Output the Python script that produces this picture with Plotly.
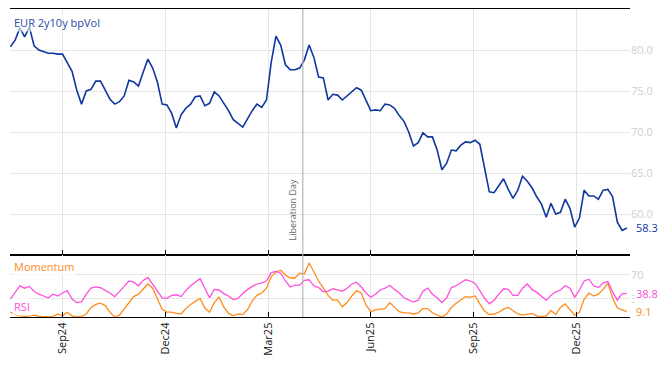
import pandas as pd
import plotly.graph_objects as go

# ---------------- data ----------------
start_date = "2024-07-17"          # first observation, sampled every 3 business days
sample_freq = "3B"

vol = [80.4, 81.2, 82.7, 81.6, 82.8, 80.5, 80.0, 79.8, 79.6, 79.6,
       79.5, 79.5, 78.5, 77.4, 75.1, 73.4, 75.0, 75.2, 76.2, 76.2,
       75.1, 74.0, 73.4, 73.7, 74.4, 76.3, 76.1, 75.6, 77.3, 78.9,
       77.8, 76.1, 73.4, 73.3, 72.3, 70.5, 72.1, 72.9, 73.4, 74.3,
       74.4, 73.2, 73.5, 74.9, 74.4, 73.5, 72.6, 71.5, 71.0, 70.6,
       71.6, 72.6, 73.4, 73.0, 73.9, 78.5, 81.7, 80.6, 78.2, 77.6,
       77.6, 77.8, 78.8, 80.6, 79.1, 76.7, 76.6, 73.9, 74.6, 74.5,
       73.9, 74.4, 74.9, 75.4, 75.1, 73.9, 72.6, 72.7, 72.6, 73.4,
       73.3, 72.9, 72.0, 71.3, 70.0, 68.3, 68.7, 69.9, 69.4, 69.4,
       67.8, 65.4, 66.2, 67.8, 67.7, 68.4, 68.8, 68.7, 69.0, 68.5,
       65.4, 62.7, 62.6, 63.4, 64.3, 63.0, 61.9, 62.9, 64.6, 64.0,
       63.2, 62.1, 61.2, 59.6, 61.3, 60.0, 60.2, 61.8, 60.7, 58.4,
       59.5, 62.9, 62.2, 62.2, 61.8, 62.9, 63.0, 62.1, 59.0, 58.0,
       58.3]

rsi = [30, 40, 52, 48, 51, 43, 38, 35, 32, 38,
       35, 40, 44, 30, 24, 25, 38, 48, 50, 49,
       45, 40, 34, 42, 51, 60, 58, 52, 61, 66,
       54, 43, 32, 31, 36, 37, 34, 44, 52, 58,
       64, 48, 32, 46, 45, 39, 35, 29, 31, 39,
       46, 51, 55, 57, 60, 74, 76, 73, 60, 50,
       53, 53, 61, 62, 52, 49, 42, 43, 47, 45,
       43, 48, 55, 58, 50, 40, 33, 38, 45, 48,
       53, 46, 40, 32, 29, 25, 28, 43, 48, 38,
       32, 24, 32, 49, 52, 57, 62, 60, 56, 44,
       31, 22, 28, 38, 47, 46, 36, 36, 48, 55,
       46, 41, 35, 28, 36, 42, 45, 52, 48, 33,
       45, 60, 63, 52, 49, 57, 59, 42, 28, 39,
       38.8]

momentum = [8, 4, 2, 1, 2, 3, 1, 0, 0, 1,
            5, 2, 8, 2, 0, 1, 5, 16, 21, 23,
            19, 8, 0, 3, 14, 24, 34, 38, 46, 55,
            48, 29, 13, 8, 8, 6, 5, 14, 21, 26,
            31, 15, 8, 24, 33, 17, 6, 2, 5, 4,
            12, 27, 36, 40, 48, 67, 75, 78, 70, 65,
            65, 73, 72, 90, 75, 60, 48, 36, 28, 28,
            17, 24, 35, 44, 40, 20, 9, 12, 13, 14,
            24, 16, 9, 7, 7, 5, 7, 14, 14, 7,
            3, 0, 5, 16, 23, 29, 34, 33, 35, 22,
            10, 4, 5, 8, 13, 16, 11, 5, 3, 5,
            6, 2, 0, 2, 11, 4, 16, 22, 12, 3,
            8, 30, 40, 35, 38, 46, 56, 32, 15, 12,
            9.1]

tick_dates = ["2024-09-02", "2024-12-02", "2025-03-03", "2025-06-02", "2025-09-01", "2025-12-01"]
tick_text = ["Sep24", "Dec24", "Mar25", "Jun25", "Sep25", "Dec25"]
vol_ticks = [60, 65, 70, 75, 80]
osc_ticks = [30, 70]
event_date = "2025-04-02"
event_label = "Liberation Day"
vol_name = "EUR 2y10y bpVol"

# ---------------- styling ----------------
BLUE = "#0f37a0"
ORANGE = "#ff8c1a"
PINK = "#ff4fdc"
GRID = "#e6e6e6"
TICKGRAY = "#cfcfcf"
FONT = "Open Sans"

dates = pd.bdate_range(start=start_date, periods=len(vol), freq=sample_freq)
x_range = ["2024-07-16 18:00", "2026-01-16"]
rb = [dict(bounds=["sat", "mon"])]
split = 62 / 308

fig = go.Figure()
fig.add_trace(go.Scatter(x=dates, y=vol, mode="lines", line=dict(color=BLUE, width=1.6),
                         xaxis="x", yaxis="y", showlegend=False, hoverinfo="skip"))
fig.add_trace(go.Scatter(x=dates, y=momentum, mode="lines", line=dict(color=ORANGE, width=1.3),
                         xaxis="x2", yaxis="y2", showlegend=False, hoverinfo="skip"))
fig.add_trace(go.Scatter(x=dates, y=rsi, mode="lines", line=dict(color=PINK, width=1.3),
                         xaxis="x2", yaxis="y2", showlegend=False, hoverinfo="skip"))

common_x = dict(range=x_range, rangebreaks=rb, tickvals=tick_dates, ticktext=tick_text,
                showgrid=True, gridcolor=GRID, gridwidth=1, showline=True, linecolor="black",
                linewidth=1.3, mirror=True, ticks="inside", ticklen=5, tickcolor="black",
                zeroline=False, automargin=False)

# the page body has an 8px default margin, so the figure is sized to fit inside the window
fig.update_layout(
    width=652, height=350,
    margin=dict(l=2, r=30, t=1, b=41, autoexpand=False),
    paper_bgcolor="white", plot_bgcolor="white",
    font=dict(family=FONT, size=11, color="#222"),
    xaxis=dict(**common_x, domain=[0, 1], anchor="y", showticklabels=False),
    yaxis=dict(domain=[split, 1], range=[55, 85], side="right", tickvals=vol_ticks,
               tickformat=".1f", tickfont=dict(color=TICKGRAY, size=11), automargin=False,
               showgrid=True, gridcolor=GRID, zeroline=False, ticks="", showline=False),
    xaxis2=dict(**common_x, domain=[0, 1], anchor="y2", matches="x", showticklabels=True,
                tickangle=-90, tickfont=dict(color="#111", size=11)),
    yaxis2=dict(domain=[0, split], range=[0, 103.3], side="right", tickvals=osc_ticks,
                tickfont=dict(color=TICKGRAY, size=11), automargin=False,
                showgrid=True, gridcolor=GRID, zeroline=False, ticks="", showline=False),
)

# event line spanning both panels
fig.add_shape(type="line", xref="x", yref="paper", x0=event_date, x1=event_date, y0=0, y1=1,
              line=dict(color="#b5b5b5", width=1.2), layer="above")
fig.add_annotation(x=event_date, xref="x", y=0.05, yref="y domain", text=event_label,
                   textangle=-90, showarrow=False, xanchor="right", yanchor="bottom", xshift=-2,
                   font=dict(size=9, color="#666"))

# series labels
fig.add_annotation(x=0.004, xref="paper", y=0.985, yref="y domain", text=vol_name,
                   showarrow=False, xanchor="left", yanchor="top",
                   font=dict(size=11, color="#2a4aa8"), bgcolor="rgba(255,255,255,0.6)")
fig.add_annotation(x=0.004, xref="paper", y=0.97, yref="y2 domain", text="Momentum",
                   showarrow=False, xanchor="left", yanchor="top",
                   font=dict(size=11, color=ORANGE), bgcolor="rgba(255,255,255,0.75)")
fig.add_annotation(x=0.004, xref="paper", y=0.02, yref="y2 domain", text="RSI",
                   showarrow=False, xanchor="left", yanchor="bottom",
                   font=dict(size=11, color=PINK), bgcolor="rgba(255,255,255,0.75)")

# last-value labels
for val, yref, col in [(vol[-1], "y", BLUE), (rsi[-1], "y2", PINK), (momentum[-1], "y2", ORANGE)]:
    fig.add_annotation(x=1, xref="paper", y=val, yref=yref, text=f"{val:.1f}",
                       showarrow=False, xanchor="left", yanchor="middle", xshift=4,
                       font=dict(size=11, color=col), bgcolor="white")

fig.write_html("out.html")
